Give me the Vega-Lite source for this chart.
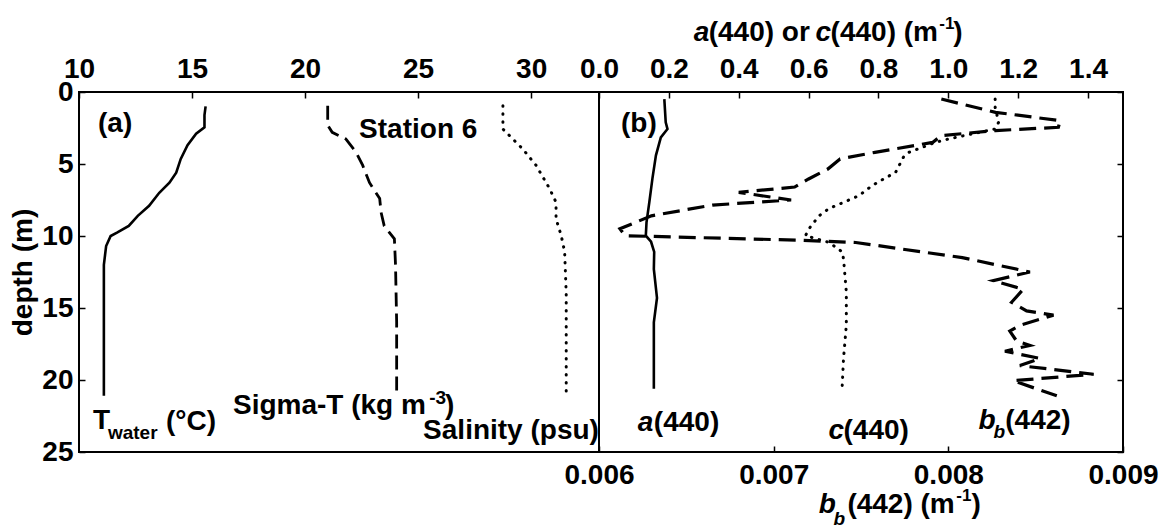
{
  "$schema": "https://vega.github.io/schema/vega-lite/v6.json",
  "padding": {"left": 8, "top": 14, "right": 5, "bottom": 5},
  "spacing": 0,
  "bounds": "flush",
  "config": {
    "font": "Liberation Sans",
    "view": {"stroke": "black", "strokeWidth": 2},
    "axis": {
      "labelFont": "Liberation Sans", "labelFontSize": 28, "labelFontWeight": "bold", "labelColor": "black",
      "titleFont": "Liberation Sans", "titleFontSize": 28, "titleFontWeight": "bold", "titleColor": "black",
      "tickColor": "black", "tickWidth": 1.5, "grid": false, "domain": false, "labelFlush": false, "labelOverlap": false
    },
    "text": {"font": "Liberation Sans", "fontWeight": "bold", "color": "black", "align": "left", "baseline": "middle"},
    "line": {"color": "black"}
  },
  "datasets": {
    "twater": [
      {"x": 15.6, "d": 1.0}, {"x": 15.55, "d": 1.6}, {"x": 15.55, "d": 2.45}, {"x": 15.18, "d": 2.9},
      {"x": 14.8, "d": 3.7}, {"x": 14.5, "d": 4.65}, {"x": 14.3, "d": 5.6}, {"x": 14.0, "d": 6.3},
      {"x": 13.55, "d": 7.0}, {"x": 13.1, "d": 7.9}, {"x": 12.6, "d": 8.6}, {"x": 12.2, "d": 9.3},
      {"x": 11.7, "d": 9.75}, {"x": 11.4, "d": 10.0}, {"x": 11.2, "d": 10.7}, {"x": 11.1, "d": 12.0},
      {"x": 11.1, "d": 16.0}, {"x": 11.1, "d": 21.1}
    ],
    "sigmat": [
      {"x": 21.0, "d": 0.95}, {"x": 21.0, "d": 2.3}, {"x": 21.2, "d": 2.8}, {"x": 21.8, "d": 3.26},
      {"x": 22.26, "d": 4.2}, {"x": 22.55, "d": 5.1}, {"x": 22.85, "d": 6.3}, {"x": 23.3, "d": 7.4},
      {"x": 23.36, "d": 8.35}, {"x": 23.5, "d": 9.3}, {"x": 23.95, "d": 10.2}, {"x": 24.0, "d": 12.0},
      {"x": 24.05, "d": 16.0}, {"x": 24.05, "d": 20.85}
    ],
    "salinity": [
      {"x": 28.75, "d": 0.95}, {"x": 28.75, "d": 2.57}, {"x": 29.04, "d": 3.03}, {"x": 29.63, "d": 3.96},
      {"x": 30.22, "d": 5.1}, {"x": 30.81, "d": 6.7}, {"x": 31.1, "d": 7.66}, {"x": 31.1, "d": 8.8},
      {"x": 31.33, "d": 9.98}, {"x": 31.48, "d": 11.1}, {"x": 31.55, "d": 14.0}, {"x": 31.55, "d": 21.0}
    ],
    "a440": [
      {"x": 0.187, "d": 0.49}, {"x": 0.191, "d": 2.1}, {"x": 0.196, "d": 2.57}, {"x": 0.177, "d": 3.15},
      {"x": 0.163, "d": 4.4}, {"x": 0.153, "d": 6.0}, {"x": 0.144, "d": 7.66}, {"x": 0.136, "d": 9.05},
      {"x": 0.134, "d": 9.98}, {"x": 0.149, "d": 10.4}, {"x": 0.158, "d": 11.1}, {"x": 0.157, "d": 12.3},
      {"x": 0.166, "d": 14.3}, {"x": 0.157, "d": 16.0}, {"x": 0.157, "d": 20.6}
    ],
    "c440": [
      {"x": 1.134, "d": 0.49}, {"x": 1.134, "d": 1.06}, {"x": 1.144, "d": 2.1}, {"x": 1.134, "d": 2.57},
      {"x": 1.001, "d": 3.26}, {"x": 0.963, "d": 3.5}, {"x": 0.887, "d": 4.19}, {"x": 0.872, "d": 4.5},
      {"x": 0.849, "d": 5.58}, {"x": 0.806, "d": 6.16}, {"x": 0.782, "d": 6.5}, {"x": 0.744, "d": 7.2},
      {"x": 0.658, "d": 8.1}, {"x": 0.63, "d": 8.6}, {"x": 0.601, "d": 9.5}, {"x": 0.591, "d": 9.98},
      {"x": 0.658, "d": 10.44}, {"x": 0.696, "d": 11.1}, {"x": 0.70, "d": 11.6}, {"x": 0.708, "d": 13.9},
      {"x": 0.708, "d": 16.2}, {"x": 0.70, "d": 18.5}, {"x": 0.696, "d": 20.5}
    ],
    "bb442": [
      {"x": 0.00796, "d": 0.49}, {"x": 0.00827, "d": 1.41}, {"x": 0.00864, "d": 1.99}, {"x": 0.00863, "d": 2.45},
      {"x": 0.00827, "d": 2.68}, {"x": 0.00796, "d": 3.03}, {"x": 0.00791, "d": 3.5}, {"x": 0.00758, "d": 4.19},
      {"x": 0.00738, "d": 4.65}, {"x": 0.00731, "d": 5.35}, {"x": 0.0072, "d": 6.04}, {"x": 0.00712, "d": 6.6},
      {"x": 0.0068, "d": 6.97}, {"x": 0.0071, "d": 7.5}, {"x": 0.00665, "d": 7.85}, {"x": 0.0063, "d": 8.6},
      {"x": 0.00612, "d": 9.5}, {"x": 0.00615, "d": 9.98}, {"x": 0.007165, "d": 10.3}, {"x": 0.00747, "d": 10.45},
      {"x": 0.00808, "d": 11.5}, {"x": 0.008467, "d": 12.5}, {"x": 0.008257, "d": 13.1}, {"x": 0.008429, "d": 13.7},
      {"x": 0.008362, "d": 14.6}, {"x": 0.008448, "d": 15.2}, {"x": 0.008602, "d": 15.5}, {"x": 0.00841, "d": 16.2},
      {"x": 0.008352, "d": 16.6}, {"x": 0.008391, "d": 17.3}, {"x": 0.008467, "d": 17.6}, {"x": 0.008324, "d": 18.0},
      {"x": 0.008525, "d": 18.5}, {"x": 0.00841, "d": 19.0}, {"x": 0.008832, "d": 19.6}, {"x": 0.008372, "d": 20.05},
      {"x": 0.008621, "d": 21.1}
    ],
    "leftText": [
      {"x": 10.84, "d": 2.22, "t": "(a)"}, {"x": 22.39, "d": 2.64, "t": "Station 6"},
      {"x": 10.62, "d": 22.85, "t": "T"}, {"x": 13.85, "d": 22.9, "t": "(°C)"},
      {"x": 16.81, "d": 21.84, "t": "Sigma-T (kg m"}, {"x": 26.19, "d": 21.84, "t": ")"},
      {"x": 25.22, "d": 23.54, "t": "Salinity (psu)"}
    ],
    "leftSmall": [
      {"x": 11.28, "d": 23.7, "t": "water"}, {"x": 25.49, "d": 21.25, "t": "-3"}
    ],
    "rightText": [
      {"x": 0.063, "d": 2.22, "t": "(b)"}, {"x": 0.157, "d": 22.99, "t": "(440)"},
      {"x": 0.70, "d": 23.54, "t": "(440)"}, {"x": 1.163, "d": 22.85, "t": "(442)"},
      {"x": 0.314, "d": -4.13, "t": "(440) or"}, {"x": 0.663, "d": -4.13, "t": "(440) (m"},
      {"x": 1.014, "d": -4.13, "t": ")"}, {"x": 0.711, "d": 28.68, "t": "(442) (m"},
      {"x": 1.066, "d": 28.68, "t": ")"}
    ],
    "rightItalic": [
      {"x": 0.111, "d": 22.99, "t": "a"}, {"x": 0.657, "d": 23.54, "t": "c"}, {"x": 1.086, "d": 22.85, "t": "b"},
      {"x": 0.271, "d": -4.13, "t": "a"}, {"x": 0.62, "d": -4.13, "t": "c"}, {"x": 0.629, "d": 28.68, "t": "b"}
    ],
    "rightSmall": [
      {"x": 0.974, "d": -4.72, "t": "-1"}, {"x": 1.023, "d": 28.06, "t": "-1"}
    ],
    "rightSmallItalic": [
      {"x": 1.129, "d": 23.6, "t": "b"}, {"x": 0.671, "d": 29.65, "t": "b"}
    ]
  },
  "hconcat": [
    {
      "width": 520,
      "height": 360,
      "encoding": {
        "x": {"field": "x", "type": "quantitative",
          "scale": {"domain": [10, 33], "nice": false, "zero": false},
          "axis": {"orient": "top", "values": [10, 15, 20, 25, 30], "title": null, "tickSize": -6, "labelPadding": 15}},
        "y": {"field": "d", "type": "quantitative",
          "scale": {"domain": [0, 25], "reverse": true, "nice": false, "zero": false},
          "axis": {"values": [0, 5, 10, 15, 20, 25], "title": "depth (m)", "tickSize": -6, "labelPadding": 12, "titlePadding": 4}}
      },
      "layer": [
        {"data": {"name": "twater"}, "mark": {"type": "line", "strokeWidth": 2.6}, "encoding": {"order": {"field": "d", "type": "quantitative"}}},
        {"data": {"name": "sigmat"}, "mark": {"type": "line", "strokeWidth": 2.8, "strokeDash": [14, 7]}, "encoding": {"order": {"field": "d", "type": "quantitative"}}},
        {"data": {"name": "salinity"}, "mark": {"type": "line", "strokeWidth": 3, "strokeDash": [0.5, 7.5], "strokeCap": "round"}, "encoding": {"order": {"field": "d", "type": "quantitative"}}},
        {"data": {"name": "leftText"}, "mark": {"type": "text", "fontSize": 28}, "encoding": {"text": {"field": "t"}}},
        {"data": {"name": "leftSmall"}, "mark": {"type": "text", "fontSize": 19}, "encoding": {"text": {"field": "t"}}}
      ]
    },
    {
      "width": 524,
      "height": 360,
      "encoding": {
        "y": {"field": "d", "type": "quantitative",
          "scale": {"domain": [0, 25], "reverse": true, "nice": false, "zero": false},
          "axis": {"orient": "right", "values": [0, 5, 10, 15, 20, 25], "labels": false, "title": null, "tickSize": -6}}
      },
      "layer": [
        {
          "encoding": {
            "x": {"field": "x", "type": "quantitative",
              "scale": {"domain": [0, 1.5], "nice": false, "zero": false},
              "axis": {"orient": "top", "values": [0, 0.2, 0.4, 0.6, 0.8, 1.0, 1.2, 1.4], "format": ".1f", "title": null, "tickSize": -6, "labelPadding": 15}}
          },
          "layer": [
            {"data": {"name": "a440"}, "mark": {"type": "line", "strokeWidth": 2.6}, "encoding": {"order": {"field": "d", "type": "quantitative"}}},
            {"data": {"name": "c440"}, "mark": {"type": "line", "strokeWidth": 3, "strokeDash": [0.5, 7.5], "strokeCap": "round"}, "encoding": {"order": {"field": "d", "type": "quantitative"}}},
            {"data": {"name": "rightText"}, "mark": {"type": "text", "fontSize": 28}, "encoding": {"text": {"field": "t"}}},
            {"data": {"name": "rightItalic"}, "mark": {"type": "text", "fontSize": 28, "fontStyle": "italic"}, "encoding": {"text": {"field": "t"}}},
            {"data": {"name": "rightSmall"}, "mark": {"type": "text", "fontSize": 17}, "encoding": {"text": {"field": "t"}}},
            {"data": {"name": "rightSmallItalic"}, "mark": {"type": "text", "fontSize": 19, "fontStyle": "italic"}, "encoding": {"text": {"field": "t"}}}
          ]
        },
        {
          "data": {"name": "bb442"},
          "mark": {"type": "line", "strokeWidth": 3.2, "strokeDash": [17, 8]},
          "encoding": {
            "x": {"field": "x", "type": "quantitative",
              "scale": {"domain": [0.006, 0.009], "nice": false, "zero": false},
              "axis": {"orient": "bottom", "values": [0.006, 0.007, 0.008, 0.009], "format": ".3f", "title": null, "tickSize": -6, "labelPadding": 15}},
            "order": {"field": "d", "type": "quantitative"}
          }
        }
      ],
      "resolve": {"scale": {"x": "independent"}}
    }
  ]
}
